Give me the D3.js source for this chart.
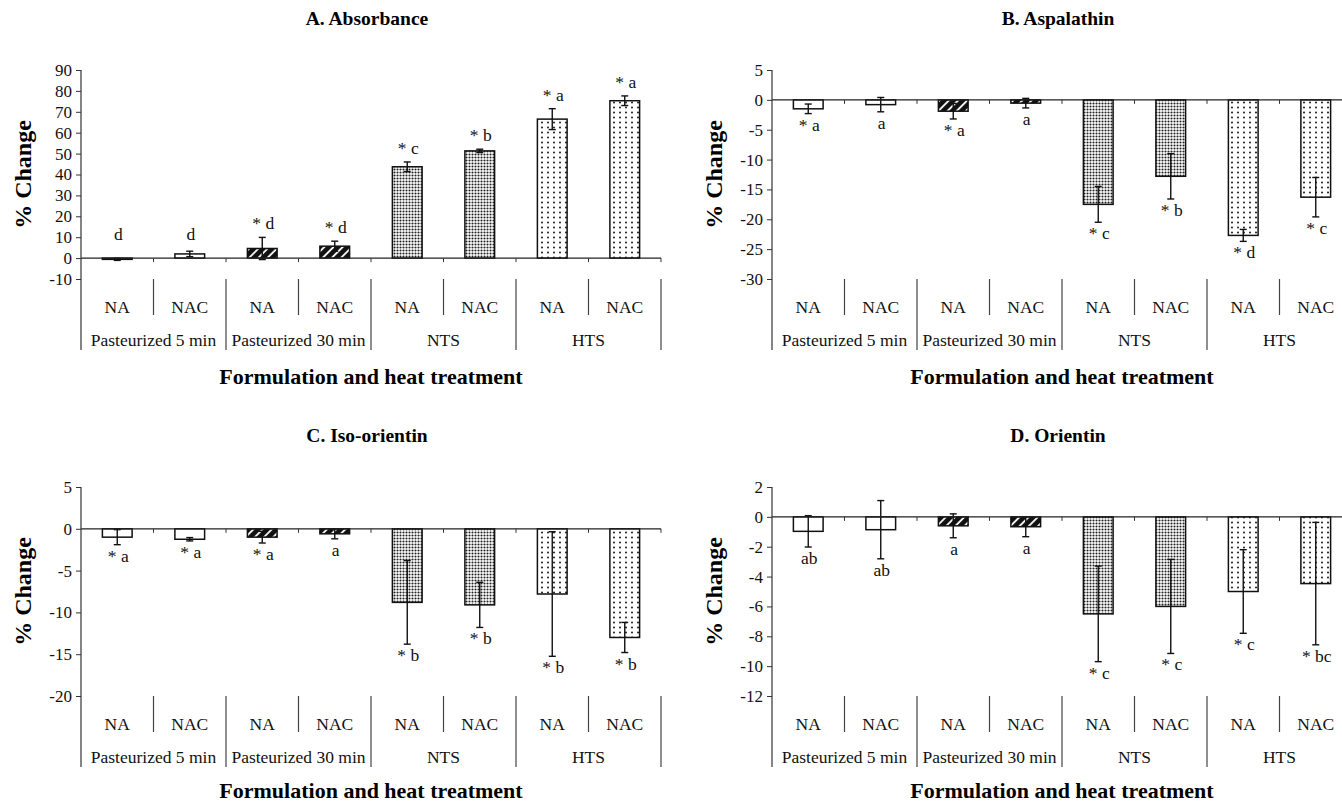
<!DOCTYPE html>
<html>
<head>
<meta charset="utf-8">
<script src="https://cdn.jsdelivr.net/npm/d3@7"></script>
<style>
  body { margin: 0; background: #fff; }
  svg { display: block; font-family: "Liberation Serif", "Times New Roman", serif; }
</style>
</head>
<body>
<div id="chart"></div>
<script>
// shared categories
const categories = ["NA", "NAC", "NA", "NAC", "NA", "NAC", "NA", "NAC"];
const groups = ["Pasteurized 5 min", "Pasteurized 30 min", "NTS", "HTS"];

// A. Absorbance
const absorbanceValues = [-0.6, 2.0, 4.6, 5.7, 43.7, 51.3, 66.5, 75.3];
const absorbanceErrors = [0.5, 1.3, 5.3, 2.4, 2.3, 0.8, 5.0, 2.3];
const absorbanceLetters = ["d", "d", "* d", "* d", "* c", "* b", "* a", "* a"];
const absorbanceTicks = [-10, 0, 10, 20, 30, 40, 50, 60, 70, 80, 90];

// B. Aspalathin
const aspalathinValues = [-1.5, -0.8, -1.9, -0.55, -17.5, -12.8, -22.7, -16.3];
const aspalathinErrors = [0.8, 1.2, 1.3, 0.8, 3.0, 3.8, 1.0, 3.3];
const aspalathinLetters = ["* a", "a", "* a", "a", "* c", "* b", "* d", "* c"];
const aspalathinTicks = [-30, -25, -20, -15, -10, -5, 0, 5];

// C. Iso-orientin
const isoorientinValues = [-1.0, -1.25, -1.0, -0.6, -8.8, -9.1, -7.8, -13.0];
const isoorientinErrors = [0.9, 0.2, 0.7, 0.6, 5.0, 2.7, 7.45, 1.8];
const isoorientinLetters = ["* a", "* a", "* a", "a", "* b", "* b", "* b", "* b"];
const isoorientinTicks = [-20, -15, -10, -5, 0, 5];

// D. Orientin
const orientinValues = [-0.97, -0.86, -0.6, -0.66, -6.5, -6.0, -5.0, -4.47];
const orientinErrors = [1.05, 1.95, 0.8, 0.67, 3.2, 3.15, 2.8, 4.1];
const orientinLetters = ["ab", "ab", "a", "a", "* c", "* c", "* c", "* bc"];
const orientinTicks = [-12, -10, -8, -6, -4, -2, 0, 2];

const width = 1342, height = 802;

const svg = d3.select("#chart").append("svg")
    .attr("width", width)
    .attr("height", height);

// fill patterns, one per heat treatment group
const defs = svg.append("defs");

const hatch = defs.append("pattern")
    .attr("id", "hatch")
    .attr("patternUnits", "userSpaceOnUse")
    .attr("width", 6.5).attr("height", 6.5)
    .attr("patternTransform", "rotate(45)");
hatch.append("rect").attr("width", 6.5).attr("height", 6.5).attr("fill", "#111");
hatch.append("line").attr("x1", 1).attr("y1", 0).attr("x2", 1).attr("y2", 6.5)
    .attr("stroke", "#fff").attr("stroke-width", 1.8);

const dense = defs.append("pattern")
    .attr("id", "dense")
    .attr("patternUnits", "userSpaceOnUse")
    .attr("width", 3).attr("height", 3);
dense.append("rect").attr("width", 3).attr("height", 3).attr("fill", "#fff");
dense.append("circle").attr("cx", 1.5).attr("cy", 1.5).attr("r", 1.05).attr("fill", "#222");

const sparse = defs.append("pattern")
    .attr("id", "sparse")
    .attr("patternUnits", "userSpaceOnUse")
    .attr("width", 6).attr("height", 5);
sparse.append("rect").attr("width", 6).attr("height", 5).attr("fill", "#fff");
sparse.append("circle").attr("cx", 2).attr("cy", 2.5).attr("r", 0.95).attr("fill", "#111");

const groupFill = ["#fff", "url(#hatch)", "url(#dense)", "url(#sparse)"];

function drawPanel(opts) {
    const { title, values, errors, letters, ticks, left, top, bottom, lettersAbove } = opts;
    const right = left + 580;
    const g = svg.append("g");

    const y = d3.scaleLinear()
        .domain(d3.extent(ticks))
        .range([bottom, top]);

    const x = d3.scaleBand()
        .domain(d3.range(categories.length))
        .range([left, right])
        .paddingInner(0.59)
        .paddingOuter(0.295);
    const step = x.step();

    // panel title
    g.append("text")
        .attr("x", (left + right) / 2 - 4)
        .attr("y", top - 45)
        .attr("text-anchor", "middle")
        .attr("font-weight", "bold")
        .attr("font-size", 19.5)
        .text(title);

    // y axis
    const yAxis = d3.axisLeft(y).tickValues(ticks).tickSize(5).tickPadding(4).tickFormat(d => String(d));
    const ya = g.append("g")
        .attr("transform", `translate(${left},0)`)
        .call(yAxis);
    ya.select(".domain").remove();
    ya.selectAll(".tick line").attr("stroke", "#333");
    ya.selectAll(".tick text")
        .attr("font-family", "Liberation Serif, Times New Roman, serif")
        .attr("font-size", 17)
        .attr("fill", "#111");

    g.append("text")
        .attr("transform", `translate(${left - 58},${(top + bottom) / 2}) rotate(-90)`)
        .attr("text-anchor", "middle")
        .attr("dominant-baseline", "central")
        .attr("font-weight", "bold")
        .attr("font-size", 24)
        .text("% Change");

    // bars
    g.selectAll("rect.bar")
        .data(values)
        .join("rect")
        .attr("class", "bar")
        .attr("x", (d, i) => x(i))
        .attr("width", x.bandwidth())
        .attr("y", d => y(Math.max(0, d)))
        .attr("height", d => Math.abs(y(d) - y(0)))
        .attr("fill", (d, i) => groupFill[Math.floor(i / 2)])
        .attr("stroke", "#111")
        .attr("stroke-width", 1.5);

    // error bars
    const eb = g.selectAll("g.err")
        .data(values)
        .join("g")
        .attr("class", "err")
        .attr("stroke", "#111")
        .attr("stroke-width", 1.4);
    eb.append("line")
        .attr("x1", (d, i) => x(i) + x.bandwidth() / 2)
        .attr("x2", (d, i) => x(i) + x.bandwidth() / 2)
        .attr("y1", (d, i) => y(d - errors[i]))
        .attr("y2", (d, i) => y(d + errors[i]));
    [-1, 1].forEach(s => {
        eb.append("line")
            .attr("x1", (d, i) => x(i) + x.bandwidth() / 2 - 3.5)
            .attr("x2", (d, i) => x(i) + x.bandwidth() / 2 + 3.5)
            .attr("y1", (d, i) => y(d + s * errors[i]))
            .attr("y2", (d, i) => y(d + s * errors[i]));
    });

    // significance letters
    g.selectAll("text.letter")
        .data(values)
        .join("text")
        .attr("class", "letter")
        .attr("x", (d, i) => x(i) + x.bandwidth() / 2 + 1)
        .attr("y", (d, i) => lettersAbove
            ? Math.min(y(d + errors[i]), y(0) - 10) - 8
            : y(d - errors[i]) + 17)
        .attr("text-anchor", "middle")
        .attr("font-size", 17.5)
        .attr("fill", "#111")
        .text((d, i) => letters[i]);

    // zero line with ticks
    const y0 = y(0);
    g.append("line")
        .attr("x1", left).attr("x2", right)
        .attr("y1", y0).attr("y2", y0)
        .attr("stroke", "#222").attr("stroke-width", 1.3);
    g.selectAll("line.xtick")
        .data(d3.range(1, categories.length + 1))
        .join("line")
        .attr("class", "xtick")
        .attr("x1", i => left + i * step).attr("x2", i => left + i * step)
        .attr("y1", y0).attr("y2", y0 + 4)
        .attr("stroke", "#333");

    // y axis line running down into the category table
    g.append("line")
        .attr("x1", left).attr("x2", left)
        .attr("y1", top).attr("y2", bottom + 71)
        .attr("stroke", "#333").attr("stroke-width", 1.2);

    // category table separators
    g.selectAll("line.sep")
        .data(d3.range(1, categories.length + 1))
        .join("line")
        .attr("class", "sep")
        .attr("x1", i => left + i * step).attr("x2", i => left + i * step)
        .attr("y1", bottom)
        .attr("y2", i => i % 2 === 0 ? bottom + 71 : bottom + 36)
        .attr("stroke", "#444").attr("stroke-width", 1.2);

    g.selectAll("text.cat")
        .data(categories)
        .join("text")
        .attr("class", "cat")
        .attr("x", (d, i) => left + (i + 0.5) * step)
        .attr("y", bottom + 34)
        .attr("text-anchor", "middle")
        .attr("font-size", 17.5)
        .attr("fill", "#111")
        .text(d => d);

    g.selectAll("text.grp")
        .data(groups)
        .join("text")
        .attr("class", "grp")
        .attr("x", (d, i) => left + (i * 2 + 1) * step)
        .attr("y", bottom + 67)
        .attr("text-anchor", "middle")
        .attr("font-size", 17.5)
        .attr("fill", "#111")
        .text(d => d);

    g.append("text")
        .attr("x", (left + right) / 2)
        .attr("y", Math.min(bottom + 105, height - 4))
        .attr("text-anchor", "middle")
        .attr("font-weight", "bold")
        .attr("font-size", 22)
        .text("Formulation and heat treatment");
}

drawPanel({ title: "A. Absorbance", values: absorbanceValues, errors: absorbanceErrors,
    letters: absorbanceLetters, ticks: absorbanceTicks, left: 81, top: 70, bottom: 279, lettersAbove: true });
drawPanel({ title: "B. Aspalathin", values: aspalathinValues, errors: aspalathinErrors,
    letters: aspalathinLetters, ticks: aspalathinTicks, left: 772, top: 70, bottom: 279 });
drawPanel({ title: "C. Iso-orientin", values: isoorientinValues, errors: isoorientinErrors,
    letters: isoorientinLetters, ticks: isoorientinTicks, left: 81, top: 487, bottom: 696 });
drawPanel({ title: "D. Orientin", values: orientinValues, errors: orientinErrors,
    letters: orientinLetters, ticks: orientinTicks, left: 772, top: 487, bottom: 696 });
</script>
</body>
</html>
